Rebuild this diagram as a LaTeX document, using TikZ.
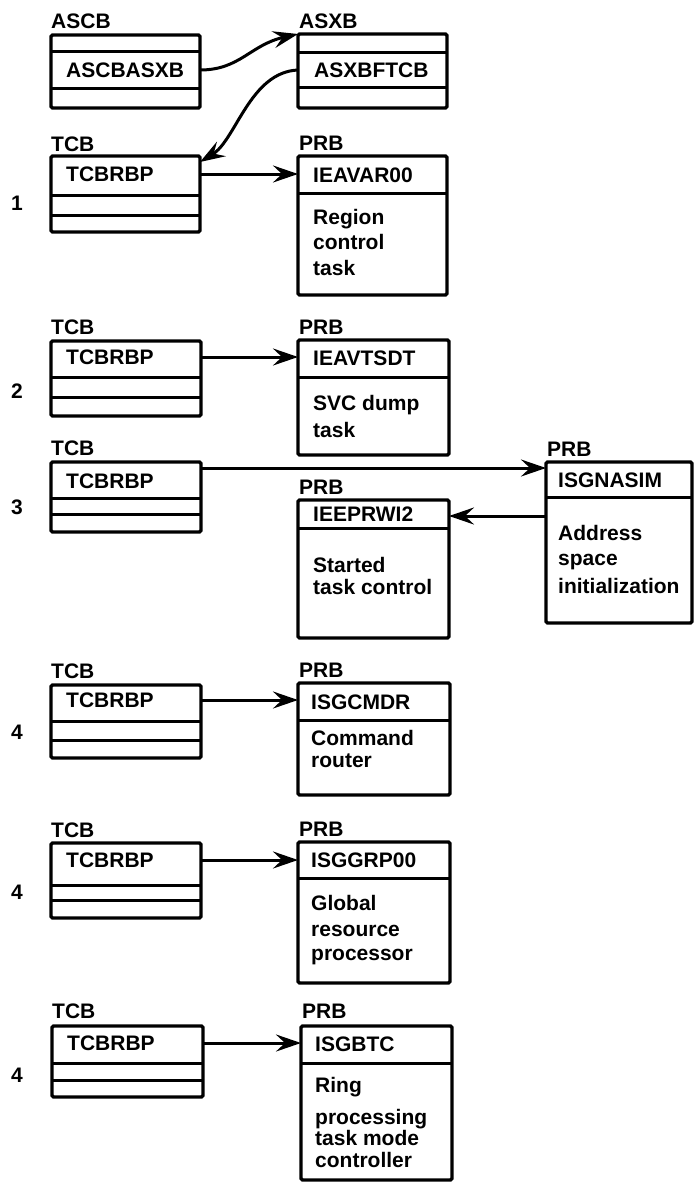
\documentclass[tikz,border=0pt]{standalone}
\usepackage{fontspec}
\setmainfont{Liberation Sans}
\usetikzlibrary{arrows.meta}
\begin{document}
\begin{tikzpicture}[x=1pt,y=-1pt,
  box/.style={draw, line width=3.4pt, rounded corners=1.5pt, outer sep=0pt, inner sep=0pt, anchor=north west},
  divider/.style={line width=3pt},
  txt/.style={font=\fontsize{21}{24}\selectfont\bfseries, inner sep=0pt, anchor=west, text height=15pt, text depth=0pt},
  lab/.style={font=\fontsize{21}{24}\selectfont\bfseries, inner sep=0pt, anchor=base west},
  num/.style={font=\fontsize{21}{24}\selectfont\bfseries, inner sep=0pt, anchor=center, text height=15pt, text depth=0pt},
  arr/.style={line width=3pt, -{Stealth[length=25pt,width=17pt,inset=9pt]}}
]
\useasboundingbox (0,0) rectangle (694,1189);

% ---------- group 1 ----------
\node[box, minimum width=149pt, minimum height=73pt] (ascb) at (51,35) {};
\draw[divider] (ascb.west |- 0,51) -- (ascb.east |- 0,51);
\draw[divider] (ascb.west |- 0,88) -- (ascb.east |- 0,88);
\node[lab] (l-ascb) at (51,28) {ASCB};
\node[txt] (t-ascb) at (66,70) {ASCBASXB};

\node[box, minimum width=149pt, minimum height=74pt] (asxb) at (298,34) {};
\draw[divider] (asxb.west |- 0,52) -- (asxb.east |- 0,52);
\draw[divider] (asxb.west |- 0,87) -- (asxb.east |- 0,87);
\node[lab] (l-asxb) at (299,28) {ASXB};
\node[txt] (t-asxb) at (314,70) {ASXBFTCB};

\node[box, minimum width=149pt, minimum height=76pt] (tcb1) at (51,156) {};
\draw[divider] (tcb1.west |- 0,195) -- (tcb1.east |- 0,195);
\draw[divider] (tcb1.west |- 0,215) -- (tcb1.east |- 0,215);
\node[lab] (l-tcb1) at (51,151) {TCB};
\node[txt] (t-tcb1) at (66,174) {TCBRBP};

\node[box, minimum width=149pt, minimum height=139pt] (prb1) at (298,156) {};
\draw[divider] (prb1.west |- 0,193) -- (prb1.east |- 0,193);
\node[lab] (l-prb1) at (299,150) {PRB};
\node[txt] (t-prb1) at (313,175) {IEAVAR00};
\node[txt] (b-prb1a) at (313,217) {Region};
\node[txt] (b-prb1b) at (313,242) {control};
\node[txt] (b-prb1c) at (313,268) {task};
\node[num] (n1) at (17,203) {1};

\draw[arr] (ascb.east |- t-ascb.west) .. controls (240,70) and (250,45) .. (asxb.north west);
\draw[arr] (asxb.west |- t-asxb.west) .. controls (250,72) and (236,140) .. ([yshift=-6pt]tcb1.north east);
\draw[arr] (tcb1.east |- t-tcb1.west) -- (prb1.west |- t-tcb1.west);

% ---------- group 2 ----------
\node[box, minimum width=150pt, minimum height=75pt] (tcb2) at (51,341) {};
\draw[divider] (tcb2.west |- 0,377) -- (tcb2.east |- 0,377);
\draw[divider] (tcb2.west |- 0,397) -- (tcb2.east |- 0,397);
\node[lab] (l-tcb2) at (51,334) {TCB};
\node[txt] (t-tcb2) at (66,357) {TCBRBP};

\node[box, minimum width=151pt, minimum height=115pt] (prb2) at (298,340) {};
\draw[divider] (prb2.west |- 0,377) -- (prb2.east |- 0,377);
\node[lab] (l-prb2) at (299,334) {PRB};
\node[txt] (t-prb2) at (313,358) {IEAVTSDT};
\node[txt] (b-prb2a) at (313,403) {SVC dump};
\node[txt] (b-prb2b) at (313,430) {task};
\node[num] (n2) at (17,391) {2};

\draw[arr] (tcb2.east |- t-tcb2.west) -- (prb2.west |- t-tcb2.west);

% ---------- group 3 ----------
\node[box, minimum width=150pt, minimum height=70pt] (tcb3) at (51,462) {};
\draw[divider] (tcb3.west |- 0,498) -- (tcb3.east |- 0,498);
\draw[divider] (tcb3.west |- 0,514) -- (tcb3.east |- 0,514);
\node[lab] (l-tcb3) at (51,455) {TCB};
\node[txt] (t-tcb3) at (66,481) {TCBRBP};
\node[num] (n3) at (17,507) {3};

\node[box, minimum width=146pt, minimum height=161pt] (isg) at (546,462) {};
\draw[divider] (isg.west |- 0,497) -- (isg.east |- 0,497);
\node[lab] (l-isg) at (547,456) {PRB};
\node[txt] (t-isg) at (558,480) {ISGNASIM};
\node[txt] (b-isga) at (558,533) {Address};
\node[txt] (b-isgb) at (558,558) {space};
\node[txt] (b-isgc) at (558,586) {initialization};

\node[box, minimum width=151pt, minimum height=138pt] (ieep) at (298,500) {};
\draw[divider] (ieep.west |- 0,528) -- (ieep.east |- 0,528);
\node[lab] (l-ieep) at (299,494) {PRB};
\node[txt] (t-ieep) at (313,514) {IEEPRWI2};
\node[txt] (b-ieepa) at (313,565) {Started};
\node[txt] (b-ieepb) at (313,587) {task control};

\coordinate (c3) at (0,468);
\coordinate (c4) at (0,516);
\draw[arr] (tcb3.east |- c3) -- (isg.west |- c3);
\draw[arr] (isg.west |- c4) -- (ieep.east |- c4);

% ---------- group 4a ----------
\node[box, minimum width=150pt, minimum height=73pt] (tcb4) at (51,685) {};
\draw[divider] (tcb4.west |- 0,721) -- (tcb4.east |- 0,721);
\draw[divider] (tcb4.west |- 0,740) -- (tcb4.east |- 0,740);
\node[lab] (l-tcb4) at (51,678) {TCB};
\node[txt] (t-tcb4) at (66,700) {TCBRBP};
\node[num] (n4) at (17,732) {4};

\node[box, minimum width=152pt, minimum height=112pt] (cmdr) at (298,683) {};
\draw[divider] (cmdr.west |- 0,720) -- (cmdr.east |- 0,720);
\node[lab] (l-cmdr) at (299,677) {PRB};
\node[txt] (t-cmdr) at (311,702) {ISGCMDR};
\node[txt] (b-cmdra) at (311,738) {Command};
\node[txt] (b-cmdrb) at (311,760) {router};

\draw[arr] (tcb4.east |- t-tcb4.west) -- (cmdr.west |- t-tcb4.west);

% ---------- group 4b ----------
\node[box, minimum width=150pt, minimum height=75pt] (tcb5) at (51,843) {};
\draw[divider] (tcb5.west |- 0,885) -- (tcb5.east |- 0,885);
\draw[divider] (tcb5.west |- 0,900) -- (tcb5.east |- 0,900);
\node[lab] (l-tcb5) at (51,837) {TCB};
\node[txt] (t-tcb5) at (66,860) {TCBRBP};
\node[num] (n5) at (17,892) {4};

\node[box, minimum width=152pt, minimum height=141pt] (grp) at (298,842) {};
\draw[divider] (grp.west |- 0,878) -- (grp.east |- 0,878);
\node[lab] (l-grp) at (299,836) {PRB};
\node[txt] (t-grp) at (311,860) {ISGGRP00};
\node[txt] (b-grpa) at (311,903) {Global};
\node[txt] (b-grpb) at (311,929) {resource};
\node[txt] (b-grpc) at (311,953) {processor};

\draw[arr] (tcb5.east |- t-tcb5.west) -- (grp.west |- t-tcb5.west);

% ---------- group 4c ----------
\node[box, minimum width=151pt, minimum height=71pt] (tcb6) at (52,1026) {};
\draw[divider] (tcb6.west |- 0,1063) -- (tcb6.east |- 0,1063);
\draw[divider] (tcb6.west |- 0,1080) -- (tcb6.east |- 0,1080);
\node[lab] (l-tcb6) at (52,1018) {TCB};
\node[txt] (t-tcb6) at (67,1043) {TCBRBP};
\node[num] (n6) at (17,1075) {4};

\node[box, minimum width=151pt, minimum height=154pt] (btc) at (301,1026) {};
\draw[divider] (btc.west |- 0,1063) -- (btc.east |- 0,1063);
\node[lab] (l-btc) at (302,1018) {PRB};
\node[txt] (t-btc) at (315,1044) {ISGBTC};
\node[txt] (b-btca) at (315,1085) {Ring};
\node[txt] (b-btcb) at (315,1117) {processing};
\node[txt] (b-btcc) at (315,1138) {task mode};
\node[txt] (b-btcd) at (315,1160) {controller};

\draw[arr] (tcb6.east |- t-tcb6.west) -- (btc.west |- t-tcb6.west);
\end{tikzpicture}
\end{document}
